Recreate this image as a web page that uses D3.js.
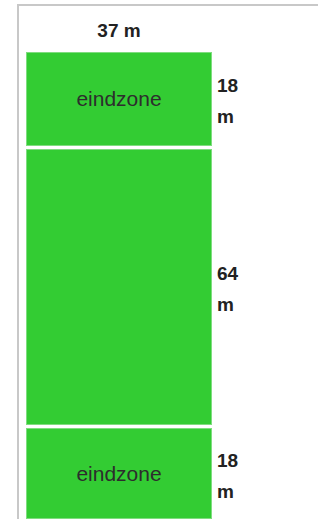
<!DOCTYPE html>
<html>
<head>
<meta charset="utf-8">
<script src="https://cdn.jsdelivr.net/npm/d3@7"></script>
<style>
  body { margin: 0; background: #fff; }
  svg { display: block; font-family: "Liberation Sans", Arial, sans-serif; }
</style>
</head>
<body>
<svg id="chart" width="318" height="519"></svg>
<script>
// field dimensions in metres
var fieldWidth = 37;
var zoneNames = ["eindzone", "", "eindzone"];
var zoneLengths = [18, 64, 18];
var widthLabel = "37 m";

var svg = d3.select("#chart");

// outer frame (only top + left edges visible)
svg.append("rect")
  .attr("x", 18).attr("y", 5)
  .attr("width", 400).attr("height", 600)
  .attr("fill", "none")
  .attr("stroke", "#c8c8c8")
  .attr("stroke-width", 2);

var x = d3.scaleLinear().domain([0, fieldWidth]).range([26, 212]);

// cumulative start of each zone
var starts = [0];
zoneLengths.forEach(function(d, i){ starts.push(starts[i] + d); });

// the drawing is not to scale: endzones are drawn larger than the middle
var y = d3.scaleLinear()
  .domain(starts)
  .range([52, 149, 428, 522]);

var gap = 3;

var zones = svg.selectAll("g.zone")
  .data(zoneLengths)
  .enter().append("g")
  .attr("class", "zone");

zones.append("rect")
  .attr("x", x(0) + 0.5)
  .attr("y", function(d, i){ return y(starts[i]) + 0.5; })
  .attr("width", x(fieldWidth) - x(0) - 1)
  .attr("height", function(d, i){ return y(starts[i + 1]) - y(starts[i]) - gap - 1; })
  .attr("fill", "#33cc33")
  .attr("stroke", "#7fdd7f")
  .attr("stroke-width", 1);

zones.append("text")
  .attr("x", (x(0) + x(fieldWidth)) / 2)
  .attr("y", function(d, i){ return (y(starts[i]) + y(starts[i + 1]) - gap) / 2 + 7; })
  .attr("text-anchor", "middle")
  .attr("font-size", 21)
  .attr("fill", "#2d2d2d")
  .text(function(d, i){ return zoneNames[i]; });

// length labels, wrapped on two lines
var lab = zones.append("text")
  .attr("x", x(fieldWidth) + 5)
  .attr("y", function(d, i){ return (y(starts[i]) + y(starts[i + 1]) - gap) / 2 - 7; })
  .attr("font-size", 19)
  .attr("font-weight", "bold")
  .attr("fill", "#222");

lab.append("tspan").text(function(d){ return d; });
lab.append("tspan")
  .attr("x", x(fieldWidth) + 5)
  .attr("dy", 31)
  .text("m");

svg.append("text")
  .attr("x", (x(0) + x(fieldWidth)) / 2)
  .attr("y", 37)
  .attr("text-anchor", "middle")
  .attr("font-size", 19)
  .attr("font-weight", "bold")
  .attr("fill", "#222")
  .text(widthLabel);
</script>
</body>
</html>
